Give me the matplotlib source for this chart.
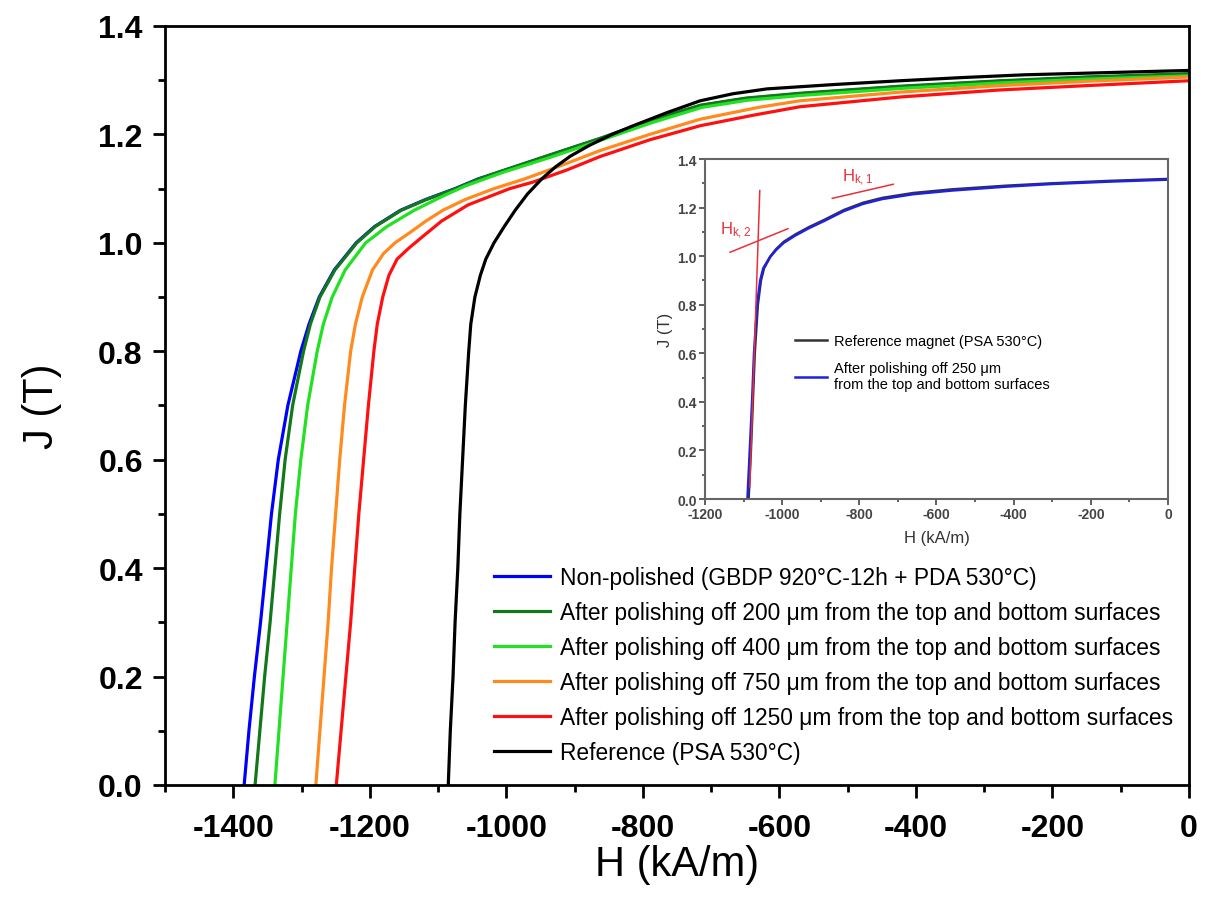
import matplotlib
matplotlib.use("Agg")
import matplotlib.pyplot as plt
from matplotlib.ticker import MultipleLocator, FormatStrFormatter

plt.rcParams['font.family'] = ['Liberation Sans', 'DejaVu Sans']
plt.rcParams['axes.unicode_minus'] = False
plt.rcParams['mathtext.default'] = 'regular'

# main chart: demagnetization curves, H (kA/m) vs J (T)
H_nonpol = [-1384, -1377, -1369, -1360, -1352, -1344, -1334, -1320, -1301, -1289, -1274, -1252, -1220,
            -1193, -1155, -1118, -1075, -1041, -1009, -940, -863, -790, -716, -650, -570, -423, -277, -150, 0]
J_nonpol = [0, 0.1, 0.2, 0.3, 0.4, 0.5, 0.6, 0.7, 0.8, 0.85, 0.9, 0.95, 1.0,
            1.03, 1.06, 1.08, 1.10, 1.118, 1.131, 1.16, 1.192, 1.225, 1.253, 1.266, 1.275, 1.288, 1.298, 1.305, 1.311]

H_200 = [-1368, -1361, -1354, -1346, -1339, -1332, -1324, -1313, -1297, -1287, -1273, -1251, -1219,
         -1192, -1154, -1117, -1074, -1040, -1008, -939, -862, -789, -715, -649, -569, -422, -276, -150, 0]
J_200 = [0, 0.1, 0.2, 0.3, 0.4, 0.5, 0.6, 0.7, 0.8, 0.85, 0.9, 0.95, 1.0,
         1.03, 1.06, 1.08, 1.10, 1.118, 1.132, 1.161, 1.193, 1.226, 1.254, 1.267, 1.276, 1.289, 1.299, 1.306, 1.312]

H_400 = [-1339, -1333, -1327, -1321, -1315, -1309, -1301, -1291, -1277, -1268, -1255, -1236, -1206,
         -1175, -1135, -1095, -1060, -1005, -935, -860, -786, -713, -647, -567, -420, -275, -150, 0]
J_400 = [0, 0.1, 0.2, 0.3, 0.4, 0.5, 0.6, 0.7, 0.8, 0.85, 0.9, 0.95, 1.0,
         1.03, 1.06, 1.085, 1.105, 1.13, 1.158, 1.19, 1.222, 1.25, 1.263, 1.272, 1.285, 1.295, 1.302, 1.308]

H_750 = [-1279, -1273, -1267, -1261, -1256, -1250, -1244, -1237, -1228, -1221, -1211, -1196, -1180, -1163,
         -1140, -1118, -1093, -1060, -1018, -973, -925, -863, -790, -716, -630, -570, -423, -277, -150, 0]
J_750 = [0, 0.1, 0.2, 0.3, 0.4, 0.5, 0.6, 0.7, 0.8, 0.85, 0.9, 0.95, 0.98, 1.0,
         1.02, 1.04, 1.06, 1.08, 1.1, 1.118, 1.14, 1.17, 1.2, 1.228, 1.25, 1.262, 1.278, 1.29, 1.298, 1.306]

H_1250 = [-1249, -1242, -1235, -1228, -1222, -1216, -1209, -1202, -1194, -1189, -1181, -1172, -1160, -1143,
          -1124, -1095, -1056, -995, -961, -910, -863, -790, -716, -640, -570, -423, -277, -150, 0]
J_1250 = [0, 0.1, 0.2, 0.3, 0.4, 0.5, 0.6, 0.7, 0.8, 0.85, 0.9, 0.94, 0.97, 0.99,
          1.01, 1.04, 1.07, 1.1, 1.112, 1.135, 1.159, 1.19, 1.216, 1.235, 1.251, 1.269, 1.282, 1.29, 1.299]

H_ref = [-1085, -1082, -1078, -1075, -1071, -1068, -1064, -1060, -1055, -1052, -1046, -1038, -1030, -1018,
         -1003, -987, -969, -948, -928, -906, -878, -845, -814, -765, -716, -668, -618, -520, -423, -330, -240, -120, 0]
J_ref = [0, 0.1, 0.2, 0.3, 0.4, 0.5, 0.6, 0.7, 0.8, 0.85, 0.9, 0.94, 0.97, 1.0,
         1.03, 1.06, 1.09, 1.118, 1.14, 1.16, 1.18, 1.2, 1.216, 1.24, 1.262, 1.275, 1.284, 1.292, 1.299, 1.305, 1.31, 1.314, 1.318]

labels = ["Non-polished (GBDP 920°C-12h + PDA 530°C)",
          "After polishing off 200 μm from the top and bottom surfaces",
          "After polishing off 400 μm from the top and bottom surfaces",
          "After polishing off 750 μm from the top and bottom surfaces",
          "After polishing off 1250 μm from the top and bottom surfaces",
          "Reference (PSA 530°C)"]
colors = ['#0000ff', '#12781a', '#22e022', '#ff8a1e', '#ff1010', '#000000']

# inset chart
H_in_ref = [-1087, -1081, -1076, -1071, -1063, -1055, -1047, -1030, -1015, -995, -965, -930, -890,
            -840, -790, -740, -660, -560, -420, -300, -150, 0]
J_in_ref = [0, 0.2, 0.4, 0.6, 0.8, 0.9, 0.95, 1.0, 1.03, 1.06, 1.09, 1.12, 1.15,
            1.19, 1.22, 1.24, 1.26, 1.275, 1.29, 1.30, 1.31, 1.318]
H_in_250 = [-1090, -1084, -1078, -1073, -1065, -1057, -1049, -1032, -1016, -996, -966, -931, -891,
            -841, -791, -741, -661, -561, -421, -300, -150, 0]
J_in_250 = [0, 0.2, 0.4, 0.6, 0.8, 0.9, 0.95, 0.995, 1.025, 1.055, 1.085, 1.115, 1.145,
            1.185, 1.215, 1.235, 1.255, 1.27, 1.286, 1.297, 1.307, 1.315]
in_labels = ["Reference magnet (PSA 530°C)",
             "After polishing off 250 μm\nfrom the top and bottom surfaces"]
# tangent lines for Hk
Hk2_steep_H = [-1084, -1058]
Hk2_steep_J = [0.05, 1.27]
Hk2_knee_H = [-1135, -985]
Hk2_knee_J = [1.016, 1.113]
Hk1_H = [-870, -712]
Hk1_J = [1.238, 1.296]

fig = plt.figure(figsize=(12.06, 9.12), dpi=100)
ax = fig.add_axes([0.1368, 0.1382, 0.849, 0.8322])

series = [(H_nonpol, J_nonpol), (H_200, J_200), (H_400, J_400),
          (H_750, J_750), (H_1250, J_1250), (H_ref, J_ref)]
for (h, j), c, lab in zip(series, colors, labels):
    ax.plot(h, j, color=c, lw=2.3, label=lab, solid_joinstyle='round')

ax.set_xlim(-1500, 0)
ax.set_ylim(0, 1.4)
ax.xaxis.set_major_locator(MultipleLocator(200))
ax.xaxis.set_minor_locator(MultipleLocator(100))
ax.yaxis.set_major_locator(MultipleLocator(0.2))
ax.yaxis.set_minor_locator(MultipleLocator(0.1))
ax.yaxis.set_major_formatter(FormatStrFormatter('%.1f'))
ax.tick_params(which='major', direction='out', length=9, width=2, labelsize=23, pad=7)
ax.tick_params(axis='x', which='major', pad=11)
ax.tick_params(which='minor', direction='out', length=5, width=2)
for t in ax.get_xticklabels() + ax.get_yticklabels():
    t.set_fontweight('bold')
for s in ax.spines.values():
    s.set_linewidth(2)
ax.set_xlabel("H (kA/m)", fontsize=30, labelpad=1)
ax.set_ylabel("J (T)", fontsize=30, labelpad=26)

leg = ax.legend(loc='upper left', bbox_to_anchor=(494 / 1206, 1 - 567 / 912),
                bbox_transform=fig.transFigure, frameon=False, fontsize=16.4,
                handlelength=2.45, handletextpad=0.45, labelspacing=0.53,
                borderpad=0, borderaxespad=0)

# inset
axi = fig.add_axes([705 / 1206, 1 - 500 / 912, 463 / 1206, 340 / 912])
axi.plot(H_in_ref, J_in_ref, color='#333333', lw=1.8, label=in_labels[0])
axi.plot(H_in_250, J_in_250, color='#2020e0', lw=1.8, label=in_labels[1])
axi.plot(Hk2_steep_H, Hk2_steep_J, color='#e8303a', lw=1.1)
axi.plot(Hk2_knee_H, Hk2_knee_J, color='#e8303a', lw=1.1)
axi.plot(Hk1_H, Hk1_J, color='#e8303a', lw=1.1)
axi.text(-1120, 1.107, '$H_{k,2}$', color='#e8303a', fontsize=12, ha='center', va='center')
axi.text(-805, 1.325, '$H_{k,1}$', color='#e8303a', fontsize=12, ha='center', va='center')

axi.set_xlim(-1200, 0)
axi.set_ylim(0, 1.4)
axi.xaxis.set_major_locator(MultipleLocator(200))
axi.xaxis.set_minor_locator(MultipleLocator(100))
axi.yaxis.set_major_locator(MultipleLocator(0.2))
axi.yaxis.set_minor_locator(MultipleLocator(0.1))
axi.yaxis.set_major_formatter(FormatStrFormatter('%.1f'))
axi.tick_params(which='major', direction='out', length=4, width=1.2, labelsize=10,
                colors='#444444', pad=2)
axi.tick_params(which='minor', direction='out', length=2.5, width=1.2, colors='#444444')
for t in axi.get_xticklabels() + axi.get_yticklabels():
    t.set_fontweight('bold')
for s in axi.spines.values():
    s.set_linewidth(1.5)
    s.set_color('#666666')
axi.set_xlabel("H (kA/m)", fontsize=12, color='#333333', labelpad=6)
axi.set_ylabel("J (T)", fontsize=12, color='#333333', labelpad=3)
axi.legend(loc='upper left', bbox_to_anchor=(795 / 1206, 1 - 335 / 912),
           bbox_transform=fig.transFigure, frameon=False, fontsize=10.5,
           handlelength=2.2, handletextpad=0.5, labelspacing=0.9,
           borderpad=0, borderaxespad=0)

fig.savefig("out.png", dpi=100)
